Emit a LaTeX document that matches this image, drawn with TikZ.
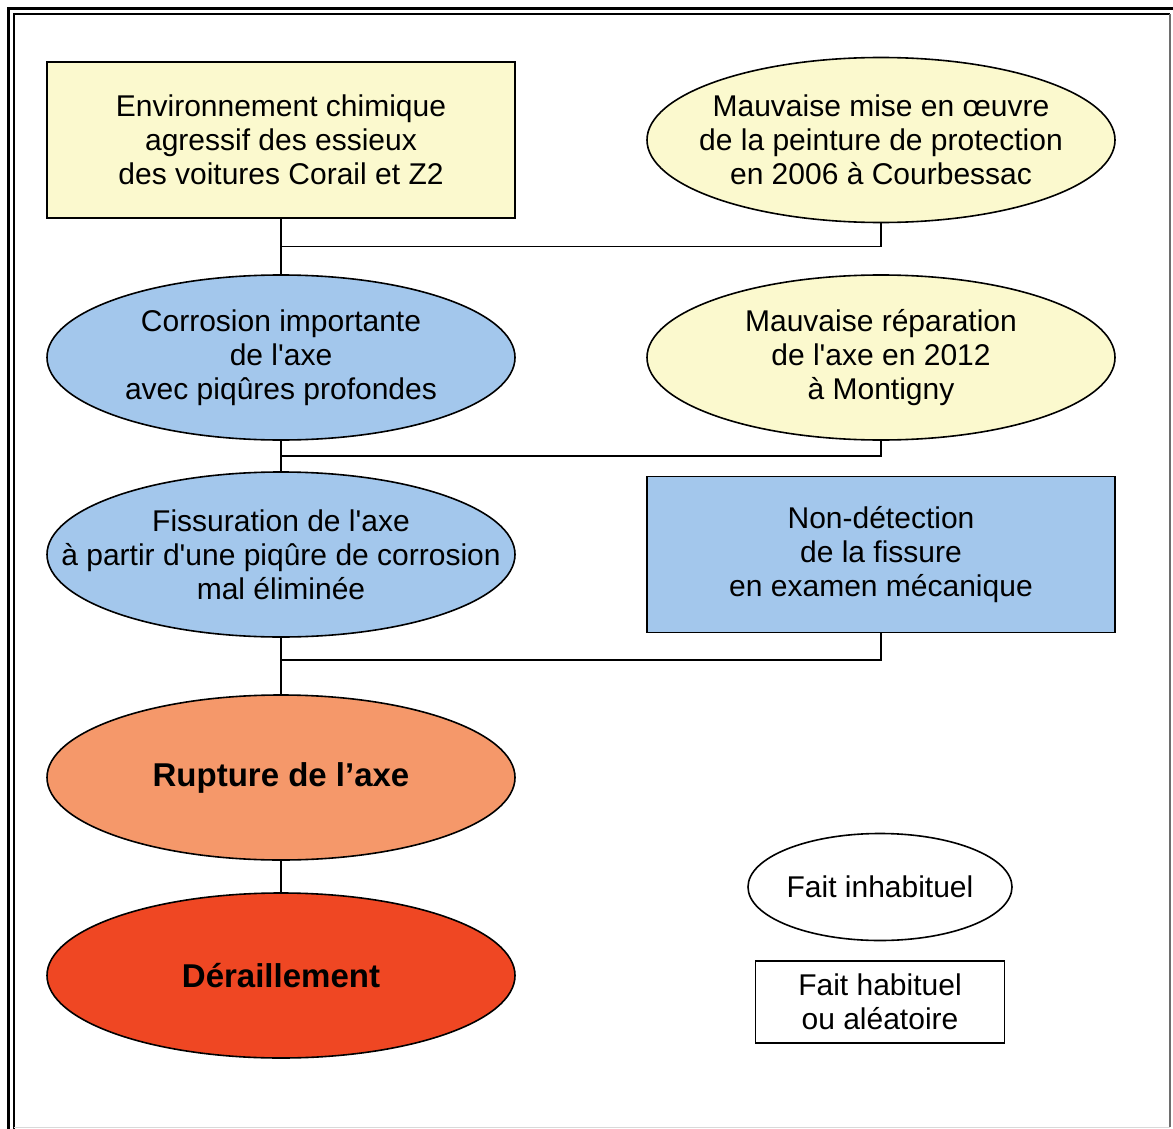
\documentclass[tikz,border=0pt]{standalone}
\usepackage{fontspec}
\setmainfont{Liberation Sans}
\usetikzlibrary{positioning, shapes.geometric, calc}
\definecolor{fillyellow}{RGB}{251,249,206}
\definecolor{fillblue}{RGB}{163,199,236}
\definecolor{fillsalmon}{RGB}{245,152,106}
\definecolor{fillred}{RGB}{239,71,35}
\definecolor{framegray}{RGB}{110,110,110}

\begin{document}
\begin{tikzpicture}[
        x=1pt, y=-1pt,
        node distance = 57pt and 132pt,
        base/.style = {draw, line width=1.6pt, inner sep=0pt, outer sep=0pt, align=center, font=\fontsize{30}{33.8}\selectfont},
        fact/.style = {base, rectangle, minimum width=468pt, minimum height=156pt},
        oval/.style = {base, ellipse, minimum width=468pt, minimum height=165pt},
        txt/.style = {align=center, inner sep=0pt, font=\fontsize{30}{33.8}\selectfont},
        bigtxt/.style = {align=center, inner sep=0pt, font=\fontsize{33}{38}\selectfont\bfseries},
        link/.style = {draw=black, line width=1.6pt}
    ]

        \useasboundingbox (0,0) rectangle (1173,1129);

        % Frame
        \draw [line width=3.5pt] (8.5,1129) -- (8.5,8.5) -- (1173,8.5);
        \draw [line width=1.5pt] (14,1129) -- (14,14) -- (1170,14);
        \draw [line width=2pt, framegray] (1170,14) -- (1170,1127);
        \draw [line width=1pt, black!15] (14,1127) -- (1170,1127);

        % Left column
        \node (env) [fact, fill=fillyellow] at (281,140) {Environnement chimique\\agressif des essieux\\des voitures Corail et Z2};
        \node (corr) [oval, fill=fillblue, below=of env, label={[txt]center:Corrosion importante\\de l\textquotesingle axe\\avec piqûres profondes}] {};
        \node (fiss) [oval, fill=fillblue, below=32pt of corr, label={[txt]center:Fissuration de l\textquotesingle axe\\à partir d\textquotesingle une piqûre de corrosion\\mal éliminée}] {};
        \node (rupt) [oval, fill=fillsalmon, below=58pt of fiss, label={[bigtxt]center:Rupture de l’axe}] {};
        \node (derail) [oval, fill=fillred, below=33pt of rupt, label={[bigtxt]center:Déraillement}] {};

        % Right column
        \node (oeuvre) [oval, fill=fillyellow, right=of env, label={[txt]center:Mauvaise mise en œuvre\\de la peinture de protection\\en 2006 à Courbessac}] {};
        \node (repar) [oval, fill=fillyellow, right=of corr, label={[txt]center:Mauvaise réparation\\de l\textquotesingle axe en 2012\\à Montigny}] {};
        \node (nondet) [fact, fill=fillblue, right=of fiss] {Non-détection\\de la fissure\\en examen mécanique};

        % Legend
        \node (unusual) [oval, fill=white, minimum width=264pt, minimum height=107pt, label={[txt]center:Fait inhabituel}] at (880,887) {};
        \node (usual) [fact, fill=white, minimum width=249pt, minimum height=82pt] at (880,1002) {Fait habituel\\ou aléatoire};

        % Connectors
        \coordinate (j1) at ($(env.south)!0.5!(corr.north)$);
        \draw [link] (env.south) -- (corr.north);
        \draw [link] (oeuvre.south) |- (j1);

        \coordinate (j2) at ($(corr.south)!0.5!(fiss.north)$);
        \draw [link] (corr.south) -- (fiss.north);
        \draw [link] (repar.south) |- (j2);

        \coordinate (j3) at ($(fiss.south)!0.4!(rupt.north)$);
        \draw [link] (fiss.south) -- (rupt.north);
        \draw [link] (nondet.south) |- (j3);

        \draw [link] (rupt.south) -- (derail.north);

    \end{tikzpicture}
\end{document}
